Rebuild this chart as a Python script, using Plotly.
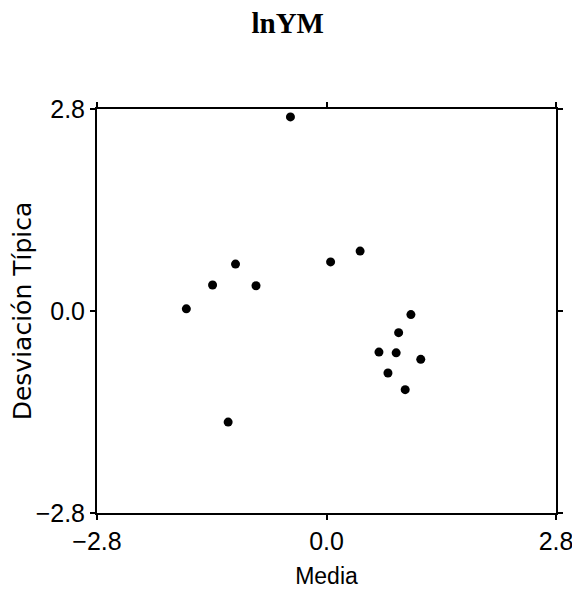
import plotly.graph_objects as go

# Scatter of mean vs. standard deviation (lnYM)
media = [-0.44, 0.41, 0.05, -1.11, -1.39, -0.86, -1.71, 1.03, 0.88, 0.64, 0.85, 1.15, 0.75, 0.96, -1.20]
desviacion = [2.69, 0.83, 0.68, 0.65, 0.36, 0.35, 0.03, -0.05, -0.30, -0.57, -0.58, -0.67, -0.86, -1.09, -1.54]

tick_vals = [-2.8, 0.0, 2.8]
tick_text = ['\u22122.8', '0.0', '2.8']

fig = go.Figure()
fig.add_trace(go.Scatter(x=media, y=desviacion, mode='markers',
                         marker=dict(color='black', size=9), showlegend=False))

axis_style = dict(range=[-2.8, 2.8], tickvals=tick_vals, ticktext=tick_text,
                  showgrid=False, zeroline=False, showline=True, linecolor='black',
                  linewidth=2, mirror='allticks', ticks='outside', ticklen=5,
                  tickcolor='black', tickwidth=1.5, automargin=False,
                  tickfont=dict(family='Liberation Sans', size=25, color='black'))

# page body has an 8px margin, so the figure is sized to fit the window
fig.update_layout(
    width=572, height=585,
    title=dict(text='<b>lnYM</b>', x=0.489, xanchor='center', y=0.975, yanchor='middle',
               font=dict(family='Liberation Serif', size=29, color='black')),
    xaxis=dict(axis_style, title=dict(text='Media', standoff=14,
                                      font=dict(family='Liberation Sans', size=23, color='black'))),
    yaxis=dict(axis_style, title=dict(text='Desviación Típica', standoff=14,
                                      font=dict(family='DejaVu Sans', size=25, color='black'))),
    margin=dict(l=89, r=24, t=101, b=80),
    plot_bgcolor='white', paper_bgcolor='white',
)

fig.write_html("out.html")
